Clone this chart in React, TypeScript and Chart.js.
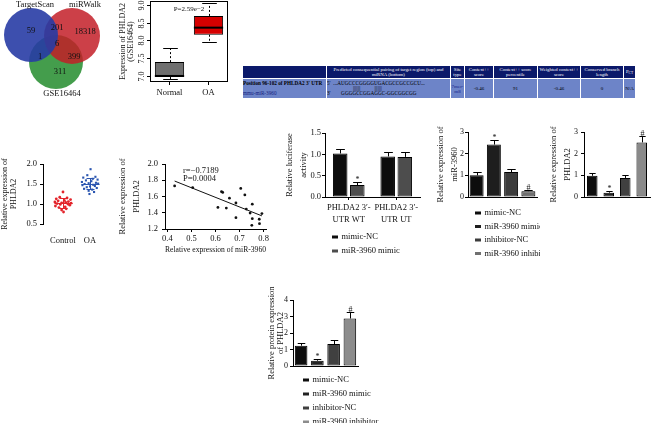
import React, { useEffect, useRef } from 'react';
import { Chart, registerables } from 'chart.js';

Chart.register(...registerables);

const SERIF = "'Liberation Serif', 'Times New Roman', Times, serif";
Chart.defaults.font.family = SERIF;
Chart.defaults.color = '#111';

// ================= DATA =================
// A: Venn diagram
const vennSetNames = ['TargetScan', 'miRWalk', 'GSE16464'];
// TargetScan only, TargetScan∩miRWalk, miRWalk only, all three, TargetScan∩GSE16464, miRWalk∩GSE16464, GSE16464 only
const vennRegionCounts = [59, 201, 18318, 6, 1, 399, 311];

// B: box plot
const boxGroups = ['Normal', 'OA'];
const boxMin = [6.92, 7.97];
const boxQ1 = [6.97, 8.16];
const boxMedian = [7.0, 8.36];
const boxQ3 = [7.39, 8.69];
const boxMax = [7.79, 9.04];
const boxYTicks = [7.0, 7.5, 8.0, 8.5, 9.0];
const boxPLabel = 'P=2.59e−2';
const boxYTitle = ['Expression of PHLDA2', '(GSE16464)'];

// C: TargetScan table
const tableHeaders = ['', 'Predicted consequential pairing of target region (top) and miRNA (bottom)', 'Site type', 'Context++ score', 'Context++ score percentile', 'Weighted context++ score', 'Conserved branch length', 'PCT'];
const tableSite = ['Position 96-102 of PHLDA2 3′ UTR', 'mmu-miR-3960'];
const tablePairing = ['5′  ...AUGCCCGGGGUGACGCCGCCGCU...', '                    |||||||           |||||||', '3′        GGGGCCGGAGGC-GGCGGCGG'];
const tableValues = ['7mer-m8', '-0.46', '91', '-0.46', '0', 'N/A'];

// D: dot plot
const dotGroups = ['Control', 'OA'];
const dotControl = [1.30, 1.17, 1.15, 1.13, 1.11, 1.09, 1.08, 1.06, 1.05, 1.04, 1.03, 1.02, 1.01, 1.00, 0.99, 0.97, 0.95, 0.93, 0.91, 0.88, 0.85, 0.80];
const dotOA = [1.87, 1.72, 1.68, 1.66, 1.63, 1.61, 1.59, 1.57, 1.55, 1.53, 1.52, 1.51, 1.50, 1.48, 1.47, 1.45, 1.44, 1.42, 1.40, 1.38, 1.36, 1.33, 1.30, 1.25];
const dotControlSpread = [0, -0.12, 0.15, -0.25, 0.28, 0.05, -0.18, 0.2, -0.3, 0.1, -0.05, 0.3, -0.22, 0.18, -0.1, 0.25, -0.28, 0.08, -0.15, 0.12, -0.05, 0.02];
const dotOASpread = [0.02, -0.1, 0.2, -0.25, 0.1, 0.28, -0.15, 0.05, -0.3, 0.22, -0.05, 0.3, -0.2, 0.12, -0.28, 0.18, 0, -0.12, 0.25, -0.22, 0.08, -0.05, 0.15, -0.02];
const dotYTicks = [0.5, 1.0, 1.5, 2.0];
const dotYTitle = ['Relative expression of', 'PHLDA2'];

// E: correlation
const corrMiR = [0.43, 0.505, 0.625, 0.63, 0.61, 0.645, 0.658, 0.685, 0.685, 0.705, 0.722, 0.728, 0.744, 0.753, 0.753, 0.751, 0.782, 0.783, 0.793];
const corrPHLDA2 = [1.73, 1.71, 1.66, 1.65, 1.465, 1.457, 1.58, 1.52, 1.34, 1.70, 1.62, 1.445, 1.396, 1.506, 1.327, 1.245, 1.32, 1.265, 1.39];
const corrXTicks = [0.4, 0.5, 0.6, 0.7, 0.8];
const corrYTicks = [1.2, 1.4, 1.6, 1.8, 2.0];
const corrStats = ['r=−0.7189', 'P=0.0004'];
const corrXTitle = 'Relative expression of miR-3960';
const corrYTitle = ['Relative expression of', 'PHLDA2'];

// F: luciferase
const lucGroups = [['PHLDA2 3′-', 'UTR WT'], ['PHLDA2 3′-', 'UTR UT']];
const lucSeries = ['mimic-NC', 'miR-3960 mimic'];
const lucMimicNC = [1.02, 0.95];
const lucMimicNCErr = [0.1, 0.1];
const lucMimic = [0.28, 0.94];
const lucMimicErr = [0.06, 0.11];
const lucMarks = [['', ''], ['*', '']];
const lucYTicks = [0, 0.5, 1.0, 1.5];
const lucYTitle = ['Relative luciferase', 'activity'];

// G, H, I
const treatGroups = ['mimic-NC', 'miR-3960 mimic', 'inhibitor-NC', 'miR-3960 inhibitor'];
const mirExpr = [1.0, 2.42, 1.15, 0.27];
const mirErr = [0.14, 0.23, 0.12, 0.07];
const mirMarks = ['', '*', '', '#'];
const mirYTitle = ['Relative expression of', 'miR-3960'];
const phlda2Expr = [0.98, 0.2, 0.88, 2.52];
const phlda2Err = [0.13, 0.06, 0.12, 0.28];
const phlda2Marks = ['', '*', '', '#'];
const phlda2YTitle = ['Relative expression of', 'PHLDA2'];
const proteinExpr = [1.23, 0.32, 1.33, 2.88];
const proteinErr = [0.17, 0.08, 0.24, 0.38];
const proteinMarks = ['', '*', '', '#'];
const proteinYTitle = ['Relative protein expression', 'of PHLDA2'];
const ticks0to3 = [0, 1, 2, 3];
const ticks0to4 = [0, 1, 2, 3, 4];

// ================= LAYOUT / STYLE =================
type Rect = { x: number; y: number; w: number; h: number };
type Area = { l: number; t: number; r: number; b: number };

const vennLayout = {
  circles: [{ x: 31, y: 35, r: 27 }, { x: 72, y: 36, r: 28 }, { x: 56, y: 62, r: 27 }],
  colors: ['rgba(40,60,165,0.9)', 'rgba(195,30,40,0.85)', 'rgba(35,140,45,0.85)'],
  names: [[35, 5], [85, 5], [62, 94]],
  counts: [[31, 31], [57, 28], [85, 32], [57, 44], [40, 57], [74, 57], [60, 72]],
};
const tableColWidths = [84, 124, 14, 29, 44, 43, 43, 12];

const R_A: Rect = { x: 0, y: 0, w: 112, h: 100 };
const R_B: Rect = { x: 100, y: 0, w: 140, h: 110 };
const R_D: Rect = { x: 0, y: 140, w: 115, h: 112 };
const R_E: Rect = { x: 112, y: 140, w: 188, h: 118 };
const R_F: Rect = { x: 283, y: 100, w: 142, h: 162 };
const R_G: Rect = { x: 432, y: 100, w: 108, h: 162 };
const R_H: Rect = { x: 540, y: 100, w: 112, h: 162 };
const R_I: Rect = { x: 262, y: 285, w: 118, h: 138 };

function frame(canvas: Rect, area: Area, xH: number) {
  return {
    padding: { left: 0, top: area.t - canvas.y, right: canvas.x + canvas.w - area.r, bottom: canvas.y + canvas.h - area.b - xH },
    yW: area.l - canvas.x,
    xH,
  };
}

function baseOptions(padding: any) {
  return {
    responsive: false,
    maintainAspectRatio: false,
    animation: false as const,
    events: [] as any[],
    devicePixelRatio: 1,
    layout: { padding, autoPadding: false },
  };
}

const hiddenPlugins = { legend: { display: false }, tooltip: { enabled: false }, title: { display: false } };

function linearY(o: { yW: number; min: number; max: number; ticks: number[]; fmt: (v: number) => string; size: number; pad: number; title: string[]; titleSize: number; titleLH: number; titleX: number }) {
  return {
    type: 'linear',
    min: o.min,
    max: o.max,
    afterFit: (s: any) => { s.width = o.yW; },
    afterBuildTicks: (s: any) => { s.ticks = o.ticks.map((v) => ({ value: v })); },
    border: { display: true, color: '#000', width: 1 },
    grid: { display: true, drawOnChartArea: false, drawTicks: true, tickLength: 3, color: '#000', lineWidth: 1 },
    ticks: { font: { size: o.size }, color: '#111', padding: o.pad, callback: (v: any) => o.fmt(Number(v)) },
    title: { display: true, text: o.title, color: '#111', font: { size: o.titleSize, lineHeight: o.titleLH + 'px' }, padding: { top: o.titleX - o.titleLH / 2, bottom: 0 } },
  };
}

function errorBarPlugin(errors: number[][], marks: string[][]) {
  return {
    id: 'errbars',
    afterDatasetsDraw(chart: any) {
      const { ctx } = chart;
      const y = chart.scales.y;
      ctx.save();
      errors.forEach((errs, di) => {
        const meta = chart.getDatasetMeta(di);
        const vals = chart.data.datasets[di].data as number[];
        meta.data.forEach((el: any, i: number) => {
          const top = Math.round(y.getPixelForValue(vals[i] + errs[i])) + 0.5;
          const cx = Math.round(el.x) + 0.5;
          const cap = Math.max(2, el.width * 0.3);
          ctx.strokeStyle = '#000';
          ctx.lineWidth = 1;
          ctx.beginPath();
          ctx.moveTo(cx, el.y);
          ctx.lineTo(cx, top);
          ctx.moveTo(cx - cap, top);
          ctx.lineTo(cx + cap, top);
          ctx.stroke();
          const m = marks[di] && marks[di][i];
          if (m) {
            ctx.fillStyle = '#111';
            ctx.font = `8px ${SERIF}`;
            ctx.textAlign = 'center';
            ctx.textBaseline = 'alphabetic';
            ctx.fillText(m, cx, top - 1);
          }
        });
      });
      ctx.restore();
    },
  };
}

function legendPlugin(items: string[], colors: string[], pos: { x: number; y: number; dy: number }) {
  return {
    id: 'vlegend',
    afterDraw(chart: any) {
      const ctx = chart.ctx;
      ctx.save();
      ctx.font = `8.5px ${SERIF}`;
      ctx.textBaseline = 'middle';
      ctx.textAlign = 'left';
      items.forEach((label, i) => {
        const yy = pos.y + i * pos.dy;
        ctx.fillStyle = colors[i];
        ctx.fillRect(pos.x, yy - 1.5, 6, 3);
        ctx.fillStyle = '#111';
        ctx.fillText(label, pos.x + 9.5, yy);
      });
      ctx.restore();
    },
  };
}

function barConfig(p: {
  canvas: Rect; area: Area; xH: number;
  labels: any[]; series: { label: string; data: number[]; color: string | string[] }[];
  errors: number[][]; marks: string[][];
  yMax: number; yTicks: number[]; yFmt: (v: number) => string; ySize: number; yPad: number;
  yTitle: string[]; titleLH: number; titleX: number;
  showX: boolean; xPad: number; xLH: number; catPct: number; barPct: number;
  legend: { items: string[]; colors: string[]; x: number; y: number; dy: number } | null;
}) {
  const f = frame(p.canvas, p.area, p.xH);
  const plugins: any[] = [errorBarPlugin(p.errors, p.marks)];
  if (p.legend) plugins.push(legendPlugin(p.legend.items, p.legend.colors, { x: p.legend.x - p.canvas.x, y: p.legend.y - p.canvas.y, dy: p.legend.dy }));
  return {
    type: 'bar',
    data: {
      labels: p.labels,
      datasets: p.series.map((s) => ({
        label: s.label, data: s.data, backgroundColor: s.color, borderColor: '#000', borderWidth: 1, borderSkipped: false,
        categoryPercentage: p.catPct, barPercentage: p.barPct,
      })),
    },
    options: {
      ...baseOptions(f.padding),
      plugins: hiddenPlugins,
      scales: {
        x: {
          type: 'category',
          offset: true,
          afterFit: (s: any) => { s.height = f.xH; },
          border: { display: true, color: '#000', width: 1 },
          grid: { display: p.showX, offset: false, drawOnChartArea: false, drawTicks: p.showX, tickLength: 3, color: '#000' },
          ticks: { display: p.showX, font: { size: 8.5, lineHeight: p.xLH + 'px' }, color: '#111', padding: p.xPad, autoSkip: false, maxRotation: 0, minRotation: 0 },
        },
        y: linearY({ yW: f.yW, min: 0, max: p.yMax, ticks: p.yTicks, fmt: p.yFmt, size: p.ySize, pad: p.yPad, title: p.yTitle, titleSize: 8.5, titleLH: p.titleLH, titleX: p.titleX }),
      },
    },
    plugins,
  };
}

// ================= CONFIGS =================
function vennConfig() {
  const textPlugin = {
    id: 'venntext',
    afterDatasetsDraw(chart: any) {
      const { ctx, scales: { x, y } } = chart;
      ctx.save();
      ctx.fillStyle = '#111';
      ctx.textAlign = 'center';
      ctx.textBaseline = 'middle';
      ctx.font = `8.5px ${SERIF}`;
      vennSetNames.forEach((n, i) => {
        const [px, py] = vennLayout.names[i];
        ctx.fillText(n, x.getPixelForValue(px), y.getPixelForValue(py));
      });
      vennRegionCounts.forEach((c, i) => {
        const [px, py] = vennLayout.counts[i];
        ctx.fillText(String(c), x.getPixelForValue(px), y.getPixelForValue(py));
      });
      ctx.restore();
    },
  };
  return {
    type: 'bubble',
    data: {
      datasets: vennLayout.circles.map((c, i) => ({
        label: vennSetNames[i], data: [{ x: c.x, y: c.y, r: c.r }], backgroundColor: vennLayout.colors[i], borderWidth: 0, clip: false,
      })),
    },
    options: {
      ...baseOptions({ left: 0, top: 0, right: 0, bottom: 0 }),
      plugins: hiddenPlugins,
      scales: {
        x: { type: 'linear', display: false, min: 0, max: R_A.w },
        y: { type: 'linear', display: false, min: 0, max: R_A.h, reverse: true },
      },
    },
    plugins: [textPlugin],
  };
}

function boxConfig() {
  const area: Area = { l: 150, t: 1, r: 228, b: 82 };
  const f = frame(R_B, area, 26);
  const boxPlugin = {
    id: 'boxwhisk',
    afterDatasetsDraw(chart: any) {
      const { ctx, chartArea: a, scales: { x, y } } = chart;
      const meta = chart.getDatasetMeta(0);
      const line = (x1: number, y1: number, x2: number, y2: number) => { ctx.beginPath(); ctx.moveTo(x1, y1); ctx.lineTo(x2, y2); ctx.stroke(); };
      ctx.save();
      ctx.strokeStyle = '#000';
      ctx.lineWidth = 1;
      boxGroups.forEach((_, i) => {
        const el = meta.data[i];
        const cx = Math.round(el.x) + 0.5;
        const hw = el.width / 2;
        const cap = el.width / 4;
        const pMin = Math.round(y.getPixelForValue(boxMin[i])) + 0.5;
        const pQ1 = y.getPixelForValue(boxQ1[i]);
        const pQ3 = y.getPixelForValue(boxQ3[i]);
        const pMax = Math.round(y.getPixelForValue(boxMax[i])) + 0.5;
        const pMed = y.getPixelForValue(boxMedian[i]);
        ctx.setLineDash([2, 2]);
        line(cx, pQ3, cx, pMax);
        line(cx, pQ1, cx, pMin);
        ctx.setLineDash([]);
        line(cx - cap, pMax, cx + cap, pMax);
        line(cx - cap, pMin, cx + cap, pMin);
        ctx.lineWidth = 2;
        line(el.x - hw, pMed, el.x + hw, pMed);
        ctx.lineWidth = 1;
      });
      ctx.strokeRect(a.left + 0.5, a.top + 0.5, a.right - a.left - 1, a.bottom - a.top - 1);
      ctx.fillStyle = '#111';
      ctx.font = `8px ${SERIF}`;
      boxYTicks.forEach((v) => {
        const py = Math.round(y.getPixelForValue(v)) + 0.5;
        line(a.left, py, a.left - 3, py);
        ctx.save();
        ctx.translate(a.left - 8, py);
        ctx.rotate(-Math.PI / 2);
        ctx.textAlign = 'center';
        ctx.textBaseline = 'middle';
        ctx.fillText(v.toFixed(1), 0, 0);
        ctx.restore();
      });
      ctx.font = `7px ${SERIF}`;
      ctx.textAlign = 'center';
      ctx.textBaseline = 'middle';
      ctx.fillText(boxPLabel, x.getPixelForValue(0.5), y.getPixelForValue(8.89));
      ctx.restore();
    },
  };
  return {
    type: 'bar',
    data: {
      labels: boxGroups,
      datasets: [{
        data: boxGroups.map((_, i) => [boxQ1[i], boxQ3[i]]),
        backgroundColor: ['#6f6f6f', '#d60000'], borderColor: '#000', borderWidth: 1, borderSkipped: false,
        barPercentage: 0.75, categoryPercentage: 1,
      }],
    },
    options: {
      ...baseOptions(f.padding),
      plugins: hiddenPlugins,
      scales: {
        x: {
          type: 'category', offset: true,
          afterFit: (s: any) => { s.height = f.xH; },
          border: { display: false },
          grid: { display: true, offset: false, drawOnChartArea: false, drawTicks: true, tickLength: 3, color: '#000' },
          ticks: { font: { size: 8.5, lineHeight: '10px' }, color: '#111', padding: 3, maxRotation: 0 },
        },
        y: {
          type: 'linear', min: 6.83, max: 9.11,
          afterFit: (s: any) => { s.width = f.yW; },
          afterBuildTicks: (s: any) => { s.ticks = boxYTicks.map((v) => ({ value: v })); },
          border: { display: false },
          grid: { display: false },
          ticks: { display: false },
          title: { display: true, text: boxYTitle, color: '#111', font: { size: 8, lineHeight: '8px' }, padding: { top: 18.5, bottom: 0 } },
        },
      },
    },
    plugins: [boxPlugin],
  };
}

function dotConfig() {
  const area: Area = { l: 43, t: 164, r: 110, b: 224 };
  const f = frame(R_D, area, 22);
  const colors = ['#e3242b', '#2a55b0'];
  const groups = [dotControl, dotOA];
  const meanSd = {
    id: 'meansd',
    afterDatasetsDraw(chart: any) {
      const { ctx, scales: { x, y } } = chart;
      const line = (x1: number, y1: number, x2: number, y2: number) => { ctx.beginPath(); ctx.moveTo(x1, y1); ctx.lineTo(x2, y2); ctx.stroke(); };
      ctx.save();
      ctx.lineWidth = 1;
      groups.forEach((vals, i) => {
        const m = vals.reduce((s, v) => s + v, 0) / vals.length;
        const sd = Math.sqrt(vals.reduce((s, v) => s + (v - m) * (v - m), 0) / (vals.length - 1));
        const cx = Math.round(x.getPixelForValue(i + 1)) + 0.5;
        const pm = Math.round(y.getPixelForValue(m)) + 0.5;
        const ph = Math.round(y.getPixelForValue(m + sd)) + 0.5;
        const pl = Math.round(y.getPixelForValue(m - sd)) + 0.5;
        ctx.strokeStyle = colors[i];
        line(cx - 9, pm, cx + 9, pm);
        line(cx, ph, cx, pl);
        line(cx - 4, ph, cx + 4, ph);
        line(cx - 4, pl, cx + 4, pl);
      });
      ctx.restore();
    },
  };
  return {
    type: 'scatter',
    data: {
      datasets: [
        { label: dotGroups[0], data: dotControl.map((v, i) => ({ x: 1 + dotControlSpread[i], y: v })), backgroundColor: colors[0], borderWidth: 0, pointRadius: 1.4, pointStyle: 'circle' },
        { label: dotGroups[1], data: dotOA.map((v, i) => ({ x: 2 + dotOASpread[i], y: v })), backgroundColor: colors[1], borderWidth: 0, pointRadius: 1.5, pointStyle: 'rect' },
      ],
    },
    options: {
      ...baseOptions(f.padding),
      plugins: hiddenPlugins,
      scales: {
        x: {
          type: 'linear', min: 0.26, max: 2.74,
          afterFit: (s: any) => { s.height = f.xH; },
          afterBuildTicks: (s: any) => { s.ticks = dotGroups.map((_, i) => ({ value: i + 1 })); },
          border: { display: false },
          grid: { display: false, drawTicks: false },
          ticks: { padding: 12, font: { size: 8.5, lineHeight: '10px' }, color: '#111', maxRotation: 0, callback: (v: any) => dotGroups[Math.round(Number(v)) - 1] },
        },
        y: linearY({ yW: f.yW, min: 0.5, max: 2.0, ticks: dotYTicks, fmt: (v) => v.toFixed(1), size: 8.5, pad: 3, title: dotYTitle, titleSize: 8, titleLH: 9, titleX: 5 }),
      },
    },
    plugins: [meanSd],
  };
}

function corrConfig() {
  const area: Area = { l: 165, t: 164, r: 266, b: 229 };
  const f = frame(R_E, area, 27);
  const n = corrMiR.length;
  const mx = corrMiR.reduce((s, v) => s + v, 0) / n;
  const my = corrPHLDA2.reduce((s, v) => s + v, 0) / n;
  let sxy = 0, sxx = 0;
  for (let i = 0; i < n; i++) { sxy += (corrMiR[i] - mx) * (corrPHLDA2[i] - my); sxx += (corrMiR[i] - mx) ** 2; }
  const slope = sxy / sxx;
  const x0 = Math.min(...corrMiR), x1 = Math.max(...corrMiR);
  const statsPlugin = {
    id: 'stats',
    afterDatasetsDraw(chart: any) {
      const { ctx, scales: { x, y } } = chart;
      ctx.save();
      ctx.fillStyle = '#111';
      ctx.font = `8.5px ${SERIF}`;
      ctx.textAlign = 'left';
      ctx.textBaseline = 'middle';
      ctx.fillText(corrStats[0], x.getPixelForValue(0.465), y.getPixelForValue(1.915));
      ctx.fillText(corrStats[1], x.getPixelForValue(0.465), y.getPixelForValue(1.815));
      ctx.restore();
    },
  };
  return {
    type: 'scatter',
    data: {
      datasets: [
        { type: 'scatter', data: corrMiR.map((v, i) => ({ x: v, y: corrPHLDA2[i] })), backgroundColor: '#111', borderWidth: 0, pointRadius: 1.4 },
        { type: 'line', data: [{ x: x0, y: my + slope * (x0 - mx) }, { x: x1, y: my + slope * (x1 - mx) }], borderColor: '#111', borderWidth: 1, pointRadius: 0, fill: false },
      ],
    },
    options: {
      ...baseOptions(f.padding),
      plugins: hiddenPlugins,
      scales: {
        x: {
          type: 'linear', min: 0.39, max: 0.81,
          afterFit: (s: any) => { s.height = f.xH; },
          afterBuildTicks: (s: any) => { s.ticks = corrXTicks.map((v) => ({ value: v })); },
          border: { display: true, color: '#000', width: 1 },
          grid: { display: true, drawOnChartArea: false, drawTicks: true, tickLength: 3, color: '#000' },
          ticks: { padding: 2, font: { size: 8.5, lineHeight: '10px' }, color: '#111', maxRotation: 0, callback: (v: any) => Number(v).toFixed(1) },
          title: { display: true, text: corrXTitle, color: '#111', font: { size: 8.5, lineHeight: '10px' }, padding: { top: 0, bottom: 1 } },
        },
        y: linearY({ yW: f.yW, min: 1.2, max: 2.0, ticks: corrYTicks, fmt: (v) => v.toFixed(1), size: 8.5, pad: 4, title: corrYTitle, titleSize: 8.5, titleLH: 14, titleX: 11 }),
      },
    },
    plugins: [statsPlugin],
  };
}

const lucColors = ['#0d0d0d', '#4d4d4d'];
const mirColors = ['#0d0d0d', '#1e1e1e', '#3c3c3c', '#707070'];
const phColors = ['#0d0d0d', '#222222', '#404040', '#8a8a8a'];
const protColors = ['#0d0d0d', '#222222', '#404040', '#8c8c8c'];

function lucConfig() {
  return barConfig({
    canvas: R_F, area: { l: 325, t: 133, r: 420, b: 197 }, xH: 29,
    labels: lucGroups,
    series: [
      { label: lucSeries[0], data: lucMimicNC, color: lucColors[0] },
      { label: lucSeries[1], data: lucMimic, color: lucColors[1] },
    ],
    errors: [lucMimicNCErr, lucMimicErr], marks: lucMarks,
    yMax: 1.5, yTicks: lucYTicks, yFmt: (v) => v.toFixed(1), ySize: 8.5, yPad: 1,
    yTitle: lucYTitle, titleLH: 14, titleX: 7,
    showX: true, xPad: 2, xLH: 12, catPct: 0.72, barPct: 0.85,
    legend: { items: lucSeries, colors: lucColors, x: 332, y: 237, dy: 14 },
  });
}

function fourBar(canvas: Rect, area: Area, vals: number[], errs: number[], marks: string[], colors: string[], yMax: number, yTicks: number[], title: string[], titleLH: number, titleX: number, yPad: number, pct: number, legend: { x: number; y: number; dy: number } | null) {
  return barConfig({
    canvas, area, xH: 6,
    labels: treatGroups,
    series: [{ label: 'value', data: vals, color: colors }],
    errors: [errs], marks: [marks],
    yMax, yTicks, yFmt: (v) => String(Math.round(v)), ySize: 8, yPad,
    yTitle: title, titleLH, titleX,
    showX: false, xPad: 0, xLH: 10, catPct: pct, barPct: pct,
    legend: legend ? { items: treatGroups, colors, ...legend } : null,
  });
}

function mirConfig() {
  return fourBar(R_G, { l: 468, t: 132, r: 537, b: 197 }, mirExpr, mirErr, mirMarks, mirColors, 3, ticks0to3, mirYTitle, 14, 9, 1, 0.9, { x: 475, y: 213, dy: 13.5 });
}
function phConfig() {
  return fourBar(R_H, { l: 584, t: 132, r: 650, b: 197 }, phlda2Expr, phlda2Err, phlda2Marks, phColors, 3, ticks0to3, phlda2YTitle, 14, 14, 3, 0.8, null);
}
function protConfig() {
  return fourBar(R_I, { l: 293, t: 300, r: 358, b: 366 }, proteinExpr, proteinErr, proteinMarks, protColors, 4, ticks0to4, proteinYTitle, 9, 10, 2, 0.88, { x: 303, y: 380, dy: 14 });
}

// ================= COMPONENTS =================
function ChartCanvas({ rect, config }: { rect: Rect; config: () => any }) {
  const ref = useRef<HTMLCanvasElement | null>(null);
  useEffect(() => {
    if (!ref.current) return;
    const chart = new Chart(ref.current, config());
    return () => chart.destroy();
  }, []);
  return (
    <canvas
      ref={ref}
      width={rect.w}
      height={rect.h}
      style={{ position: 'absolute', left: rect.x, top: rect.y, width: rect.w, height: rect.h, display: 'block' }}
    />
  );
}

function PairingTable() {
  const S = 2;
  const cell: React.CSSProperties = { border: `${S}px solid #fff`, padding: 0, textAlign: 'center', verticalAlign: 'middle', overflow: 'hidden' };
  return (
    <div style={{ position: 'absolute', left: 242, top: 65, width: 393 * S, transform: `scale(${1 / S})`, transformOrigin: '0 0' }}>
      <table style={{ width: 393 * S, borderCollapse: 'collapse', tableLayout: 'fixed', fontFamily: SERIF, fontSize: 4.8 * S, lineHeight: 1.05 }}>
        <colgroup>{tableColWidths.map((w, i) => <col key={i} style={{ width: w * S }} />)}</colgroup>
        <tbody>
          <tr style={{ height: 13 * S, background: '#0b196a', color: '#fff' }}>
            {tableHeaders.map((h, i) => (
              <td key={i} style={cell}>
                {i === tableHeaders.length - 1 ? <span>{h.slice(0, 1)}<sub style={{ fontSize: 3.5 * S }}>{h.slice(1)}</sub></span> : h}
              </td>
            ))}
          </tr>
          <tr style={{ height: 20 * S, background: '#6d84c8', color: '#000' }}>
            <td style={{ ...cell, textAlign: 'left', fontSize: 5.2 * S }}>
              <div style={{ fontWeight: 'bold' }}>{tableSite[0]}</div>
              <div style={{ marginTop: 5 * S, color: '#15237f' }}>{tableSite[1]}</div>
            </td>
            <td style={{ ...cell, textAlign: 'left', whiteSpace: 'pre', fontSize: 5.2 * S, lineHeight: 1.0 }}>{tablePairing.join('\n')}</td>
            {tableValues.map((v, i) => (
              <td key={i} style={{ ...cell, fontSize: 5 * S, color: i === 0 ? '#16238a' : '#000' }}>{v}</td>
            ))}
          </tr>
        </tbody>
      </table>
    </div>
  );
}

export default function App() {
  return (
    <div style={{ position: 'fixed', left: 0, top: 0, width: 652, height: 423, background: '#fff', overflow: 'hidden' }}>
      <ChartCanvas rect={R_A} config={vennConfig} />
      <ChartCanvas rect={R_B} config={boxConfig} />
      <PairingTable />
      <ChartCanvas rect={R_D} config={dotConfig} />
      <ChartCanvas rect={R_E} config={corrConfig} />
      <ChartCanvas rect={R_F} config={lucConfig} />
      <ChartCanvas rect={R_G} config={mirConfig} />
      <ChartCanvas rect={R_H} config={phConfig} />
      <ChartCanvas rect={R_I} config={protConfig} />
    </div>
  );
}
